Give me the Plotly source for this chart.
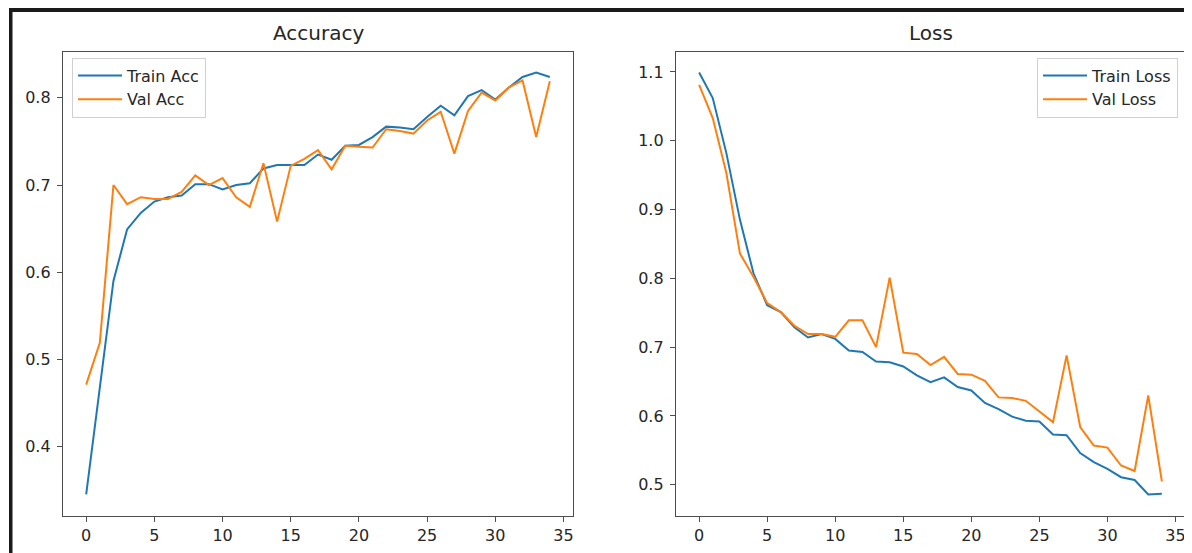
import plotly.graph_objects as go

# ---------------- data ----------------
epochs = list(range(35))
train_acc = [0.345, 0.466, 0.590, 0.649, 0.668, 0.681, 0.686, 0.688, 0.701, 0.701,
             0.695, 0.700, 0.702, 0.719, 0.723, 0.723, 0.723, 0.735, 0.729, 0.745,
             0.746, 0.755, 0.767, 0.766, 0.764, 0.778, 0.791, 0.780, 0.802, 0.809,
             0.798, 0.812, 0.824, 0.829, 0.824]
val_acc = [0.471, 0.519, 0.700, 0.678, 0.686, 0.684, 0.684, 0.692, 0.711, 0.700,
           0.708, 0.686, 0.675, 0.725, 0.658, 0.722, 0.730, 0.740, 0.718, 0.745,
           0.744, 0.743, 0.764, 0.762, 0.759, 0.774, 0.784, 0.736, 0.785, 0.806,
           0.797, 0.812, 0.820, 0.755, 0.819]
train_loss = [1.099, 1.062, 0.982, 0.885, 0.807, 0.761, 0.751, 0.729, 0.714, 0.719,
              0.712, 0.695, 0.693, 0.679, 0.678, 0.672, 0.659, 0.649, 0.656, 0.642,
              0.637, 0.619, 0.610, 0.599, 0.593, 0.592, 0.573, 0.572, 0.546, 0.533,
              0.523, 0.511, 0.507, 0.486, 0.487]
val_loss = [1.081, 1.033, 0.953, 0.836, 0.802, 0.764, 0.751, 0.731, 0.719, 0.719,
            0.715, 0.739, 0.739, 0.700, 0.801, 0.692, 0.690, 0.674, 0.686, 0.661,
            0.660, 0.651, 0.627, 0.626, 0.622, 0.606, 0.591, 0.688, 0.584, 0.557,
            0.554, 0.528, 0.520, 0.630, 0.505]
x_ticks = [0, 5, 10, 15, 20, 25, 30, 35]
acc_ticks = [0.4, 0.5, 0.6, 0.7, 0.8]
loss_ticks = [0.5, 0.6, 0.7, 0.8, 0.9, 1.0, 1.1]
titles = ["Accuracy", "Loss"]
legend_names = [["Train Acc", "Val Acc"], ["Train Loss", "Val Loss"]]

# ---------------- style ----------------
OFF = 8  # page body margin of the HTML page
W, H = 1192 - OFF, 553 - OFF
BLUE = "#1f77b4"
ORANGE = "#ff7f0e"
FONT = "DejaVu Sans"
TXT = "#262626"
SPINE = "#4d4d4d"


def margin_range(values, frac=0.05):
    lo, hi = min(values), max(values)
    pad = (hi - lo) * frac
    return [lo - pad, hi + pad]


def px_x(p):
    return (p - OFF) / W


def px_y(p):
    return 1 - (p - OFF) / H


fig = go.Figure()

fig.add_trace(go.Scatter(x=epochs, y=train_acc, mode="lines", name=legend_names[0][0],
                         line=dict(color=BLUE, width=2), xaxis="x", yaxis="y", legend="legend"))
fig.add_trace(go.Scatter(x=epochs, y=val_acc, mode="lines", name=legend_names[0][1],
                         line=dict(color=ORANGE, width=2), xaxis="x", yaxis="y", legend="legend"))
fig.add_trace(go.Scatter(x=epochs, y=train_loss, mode="lines", name=legend_names[1][0],
                         line=dict(color=BLUE, width=2), xaxis="x2", yaxis="y2", legend="legend2"))
fig.add_trace(go.Scatter(x=epochs, y=val_loss, mode="lines", name=legend_names[1][1],
                         line=dict(color=ORANGE, width=2), xaxis="x2", yaxis="y2", legend="legend2"))

xr = margin_range(epochs)
axis_common = dict(
    showgrid=False, zeroline=False, showline=True, mirror=True,
    linecolor=SPINE, linewidth=1.3, ticks="outside", ticklen=5, tickwidth=1.2,
    tickcolor=SPINE, tickfont=dict(family=FONT, size=16, color=TXT), automargin=False,
)

left_dom = [px_x(63), px_x(573)]
right_dom = [px_x(676), px_x(1185)]
y_dom = [px_y(515.5), px_y(51.5)]

legend_common = dict(
    yanchor="top", bgcolor="rgba(255,255,255,0.8)", bordercolor="#d0d0d0", borderwidth=1,
    font=dict(family=FONT, size=16, color=TXT), tracegroupgap=0, itemwidth=44,
)

fig.update_layout(
    width=W, height=H, autosize=False,
    margin=dict(l=0, r=0, t=0, b=0, pad=0),
    paper_bgcolor="white", plot_bgcolor="white",
    xaxis=dict(domain=left_dom, range=xr, tickvals=x_ticks, anchor="y", **axis_common),
    yaxis=dict(domain=y_dom, range=margin_range(train_acc + val_acc), tickvals=acc_ticks,
               tickformat=".1f", anchor="x", ticklabelstandoff=3, **axis_common),
    xaxis2=dict(domain=right_dom, range=xr, tickvals=x_ticks, anchor="y2", **axis_common),
    yaxis2=dict(domain=y_dom, range=margin_range(train_loss + val_loss), tickvals=loss_ticks,
                tickformat=".1f", anchor="x2", ticklabelstandoff=3, **axis_common),
    legend=dict(x=px_x(72), y=px_y(57.5), xanchor="left", **legend_common),
    legend2=dict(x=px_x(1178), y=px_y(57.5), xanchor="right", **legend_common),
    showlegend=True,
)

for dom, t in zip([left_dom, right_dom], titles):
    fig.add_annotation(text=t, x=(dom[0] + dom[1]) / 2, y=px_y(33), xref="paper", yref="paper",
                       xanchor="center", yanchor="middle", showarrow=False,
                       font=dict(family=FONT, size=20, color=TXT))

# dark screenshot border (top and left)
fig.add_shape(type="rect", xref="paper", yref="paper", x0=px_x(9), x1=px_x(12.5),
              y0=0, y1=px_y(7), fillcolor="#1a1a1a", line=dict(width=0), layer="above")
fig.add_shape(type="rect", xref="paper", yref="paper", x0=px_x(9), x1=1,
              y0=px_y(12), y1=px_y(7), fillcolor="#1a1a1a", line=dict(width=0), layer="above")

fig.write_html("out.html")
